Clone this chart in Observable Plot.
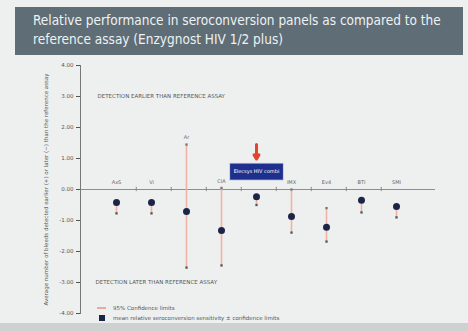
<!DOCTYPE html>
<html><head><meta charset="utf-8">
<script src="https://cdn.jsdelivr.net/npm/d3@7"></script>
<script src="https://cdn.jsdelivr.net/npm/@observablehq/plot@0.6"></script>
<style>
html,body{margin:0;padding:0;}
body{width:468px;height:331px;background:#eef0ef;position:relative;overflow:hidden;font-family:"Liberation Sans Narrow","DejaVu Sans Condensed",sans-serif;}
#title{position:absolute;left:15px;top:7px;width:448px;height:48px;background:#5f6d76;color:#eef2f3;font-size:13.5px;line-height:19px;padding:4px 0 0 18px;box-sizing:border-box;letter-spacing:0px;}
#chart{position:absolute;left:0;top:58px;}
#legend{position:absolute;left:97px;top:303px;font-size:5.5px;color:#555;line-height:10px;font-family:"DejaVu Sans",sans-serif;}
#legend span.sw{display:inline-block;vertical-align:middle;margin-right:7px;}
#bottom{position:absolute;left:0;top:323px;width:468px;height:8px;background:#cdd1d1;}
</style></head>
<body>
<div id="title">Relative performance in seroconversion panels as compared to the reference assay (Enzygnost HIV 1/2 plus)</div>
<div id="chart"></div>
<div id="legend">
<div><span class="sw" style="width:9px;height:2px;background:#f0a898"></span>95% Confidence limits</div>
<div><span class="sw" style="width:6px;height:6px;background:#1d2547;margin-left:2px;margin-right:8px"></span>mean relative seroconversion sensitivity ± confidence limits</div>
</div>
<div id="bottom"></div>
<script>
const categories = ["AxS", "Vi", "Ar", "CIA", "Elecsys HIV combi", "IMX", "Ev4", "BTI", "SMI"];
const meanValues = [-0.42, -0.42, -0.71, -1.32, -0.23, -0.87, -1.22, -0.35, -0.55];
const lowerLimits = [-0.77, -0.77, -2.52, -2.45, -0.50, -1.39, -1.68, -0.74, -0.90];
const upperLimits = [-0.42, -0.42, 1.45, 0.05, -0.23, 0.0, -0.60, -0.35, -0.55];
const yTicks = [4, 3, 2, 1, 0, -1, -2, -3, -4];
const highlighted = "Elecsys HIV combi";
const topNote = "DETECTION EARLIER THAN REFERENCE ASSAY";
const bottomNote = "DETECTION LATER THAN REFERENCE ASSAY";
const yLabel = "Average number of bleeds detected earlier (+) or later (−) than the reference assay";

const rows = categories.map((c, i) => ({cat: c, mean: meanValues[i], low: lowerLimits[i], high: upperLimits[i]}));
const labelRows = rows.filter(r => r.cat !== highlighted);
const hiRow = rows.filter(r => r.cat === highlighted);
const mids = categories.slice(0, -1);

const plot = Plot.plot({
  width: 468, height: 273,
  marginTop: 7, marginBottom: 18, marginLeft: 80, marginRight: 33,
  style: {background: "transparent", fontFamily: "DejaVu Sans, sans-serif"},
  x: {type: "point", domain: categories, range: [98, 414], axis: null},
  y: {domain: [-4, 4]},
  marks: [
    Plot.axisY({ticks: yTicks, tickFormat: d => d.toFixed(2), fontSize: 5.5, tickSize: 4, tickPadding: 3, color: "#555",
      label: yLabel, labelAnchor: "center", labelArrow: false, labelOffset: 36, fontSize: 5.5}),
    Plot.ruleY([0], {stroke: "#8a8f92", strokeWidth: 1.2}),
    Plot.ruleX(mids, {x: d => d, y1: -0.07, y2: 0.07, dx: 19.75, stroke: "#888"}),
    Plot.ruleX(rows, {x: "cat", y1: "low", y2: "high", stroke: "#f0b2a6", strokeWidth: 1.6}),
    Plot.dot(rows, {x: "cat", y: "low", r: 1.3, fill: "#555", symbol: "square"}),
    Plot.dot(rows.filter(r => r.high - r.mean > 0.3), {x: "cat", y: "high", r: 1.3, fill: "#777", symbol: "square"}),
    Plot.dot(rows, {x: "cat", y: "mean", r: 3.5, fill: "#1d2547"}),
    Plot.text(labelRows, {x: "cat", y: r => Math.max(0, r.high), dy: -7, text: "cat", fontSize: 5, fill: "#666"}),
    Plot.text(hiRow, {x: "cat", y: 0, dy: -18, text: "cat", fontSize: 5, fill: "#fff"}),
    Plot.arrow(hiRow, {x1: "cat", x2: "cat", y1: 1.45, y2: 0.98, stroke: "#e2452b", strokeWidth: 3, headLength: 6}),
    Plot.text([topNote], {y: 3, frameAnchor: "left", dx: 17, textAnchor: "start", text: d => d, fontSize: 5.5, fill: "#555"}),
    Plot.text([bottomNote], {y: -3, frameAnchor: "left", dx: 15, textAnchor: "start", text: d => d, fontSize: 5.5, fill: "#555"}),
    Plot.frame({anchor: "left", stroke: "#777"})
  ]
});
document.getElementById("chart").appendChild(plot);
// box behind highlighted label
plot.querySelectorAll("text").forEach(t => {
  if (t.textContent === highlighted) {
    const b = t.getBBox();
    const r = document.createElementNS("http://www.w3.org/2000/svg", "rect");
    r.setAttribute("x", b.x - 4); r.setAttribute("y", b.y - 5);
    r.setAttribute("width", b.width + 8); r.setAttribute("height", b.height + 10);
    r.setAttribute("fill", "#1e2f8e"); r.setAttribute("stroke", "#d8dcf0"); r.setAttribute("stroke-width", 0.8);
    const tr = t.getAttribute("transform");
    if (tr) r.setAttribute("transform", tr);
    t.parentNode.insertBefore(r, t);
  }
});
</script>
</body></html>
